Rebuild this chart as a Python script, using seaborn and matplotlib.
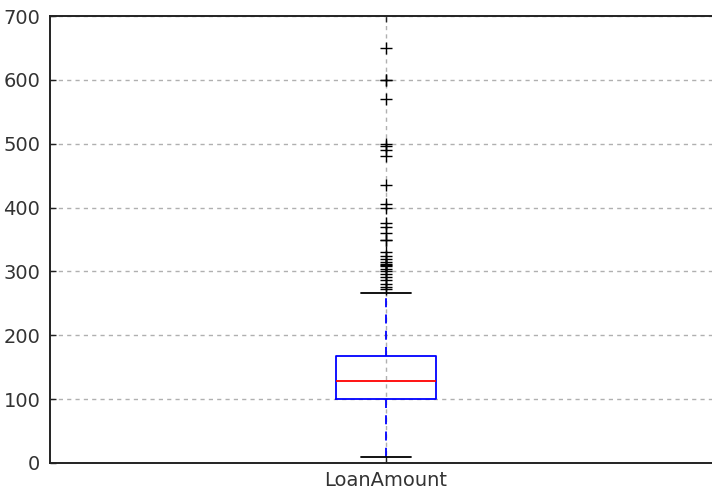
import numpy as np
import pandas as pd
import matplotlib
matplotlib.use("Agg")
import matplotlib.pyplot as plt
import seaborn as sns

# LoanAmount values (sorted roughly low -> high), read to reproduce the box statistics
low_values = [9, 17, 25, 26, 30, 35, 40, 45, 46, 48, 50, 53, 55, 56, 58, 60, 62, 63, 65, 66,
              67, 70, 70, 71, 72, 74, 75, 76, 78, 80, 81, 84, 85, 87, 88, 90, 93, 95, 96, 97]
q1_value = [100]
lower_mid = [100, 101, 102, 103, 104, 105, 105, 106, 107, 108, 109, 110, 110, 110, 111,
             112, 113, 113, 115, 115, 116, 117, 118, 119, 120, 120, 120, 121, 122, 123,
             124, 124, 125, 125, 125, 126, 126, 127, 127]
median_value = [128]
upper_mid = [128, 129, 130, 130, 131, 132, 133, 134, 135, 135, 136, 137, 138, 140, 140,
             141, 143, 144, 145, 146, 148, 150, 150, 151, 152, 153, 154, 155, 155, 156,
             158, 158, 160, 160, 160, 162, 164, 165, 166]
q3_value = [168]
upper_whisker_range = [172, 175, 180, 187, 196, 205, 225, 240, 266]
outliers = [650, 600, 600, 570, 500, 496, 490, 480, 436, 405, 400, 376, 370, 360, 350,
            349, 330, 324, 320, 315, 312, 310, 308, 304, 300, 296, 292, 286, 280, 275, 272]

loan_amount = (low_values + q1_value + lower_mid + median_value + upper_mid
               + q3_value + upper_whisker_range + outliers)
df = pd.DataFrame({"LoanAmount": loan_amount})

sns.set_style("white")
plt.rcParams["font.family"] = ["DejaVu Sans"]

fig = plt.figure(figsize=(7.12, 4.92), dpi=100)
ax = fig.add_axes([50 / 712, (492 - 463) / 492, 672 / 712, 447 / 492])

sns.boxplot(data=df, ax=ax, width=0.15, fill=False, whis=1.5,
            boxprops=dict(color="blue", linewidth=1.3),
            whiskerprops=dict(color="blue", linestyle=(0, (5, 4)), linewidth=1.3),
            capprops=dict(color="black", linewidth=1.3),
            medianprops=dict(color="red", linewidth=1.3),
            flierprops=dict(marker="+", markeredgecolor="black", markersize=8,
                            markeredgewidth=1.0, linestyle="none"))

ax.set_xlim(-0.5, 0.5)
ax.set_ylim(0, 700)
ax.set_yticks(range(0, 701, 100))
ax.grid(True, color="#b0b0b0", linestyle=(0, (3, 3)), linewidth=1.0)
ax.set_axisbelow(True)
for s in ax.spines.values():
    s.set_color("#222222")
    s.set_linewidth(1.4)
    s.set_visible(True)
ax.tick_params(axis="both", direction="in", length=4, width=1, colors="#222222",
               labelsize=14, labelcolor="#333333", top=True, right=True, left=True, bottom=True)
ax.tick_params(axis="y", pad=7)
ax.tick_params(axis="x", pad=6)
ax.set_xlabel("")
ax.set_ylabel("")

fig.savefig("out.png", dpi=100)
